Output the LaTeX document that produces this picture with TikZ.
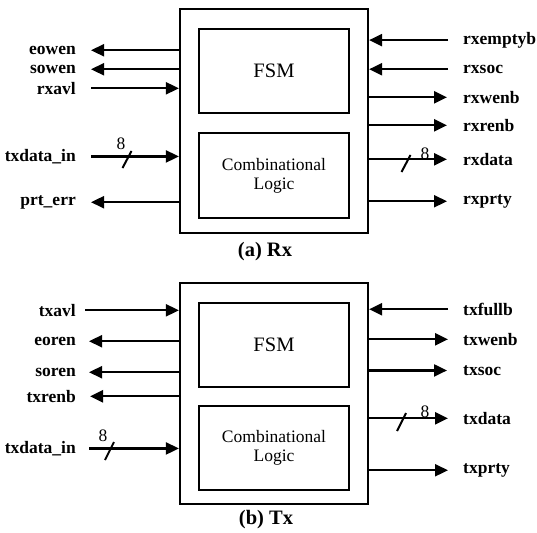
\documentclass[tikz,border=0pt]{standalone}
\usepackage{fontspec}
\setmainfont{Liberation Serif}
\usetikzlibrary{arrows.meta}

\tikzset{
  unit/.style={draw, line width=2.2pt, minimum width=188pt, inner sep=0pt},
  block/.style={draw, line width=2pt, minimum width=150pt, inner sep=0pt, align=center},
  inlbl/.style={inner sep=0pt, font=\bfseries\fontsize{17.5}{17.5}\selectfont, anchor=mid east},
  outlbl/.style={inner sep=0pt, font=\bfseries\fontsize{17.5}{17.5}\selectfont, anchor=mid west},
  sig/.style={line width=2.2pt, -{Triangle[length=13pt,width=12pt]}},
  busmark/.style={line width=2pt},
  buswidth/.style={inner sep=0pt, font=\fontsize{17.5}{17.5}\selectfont},
  caption/.style={inner sep=0pt, font=\bfseries\fontsize{20.5}{20.5}\selectfont}
}

\begin{document}
\begin{tikzpicture}[x=1pt,y=-1pt]
\useasboundingbox (0,0) rectangle (537,532);

% ---------------- Rx ----------------
\node[unit, minimum height=224pt] (rx) at (274,121) {};
\node[block, minimum height=84pt, font=\fontsize{20.5}{20.5}\selectfont] (rxfsm) at (274,71) {FSM};
\node[block, minimum height=85pt, font=\fontsize{17.5}{19}\selectfont] (rxcl) at (274,175.5) {Combinational\\Logic};
\node[caption] (rxcap) at (265,252) {(a) Rx};

% left side signals
\node[inlbl] (eowen) at (76,52) {eowen};
\node[inlbl] (sowen) at (76,71) {sowen};
\node[inlbl] (rxavl) at (76,92) {rxavl};
\node[inlbl] (rxtxin) at (76,159) {txdata\_in};
\node[inlbl] (prterr) at (76,203) {prt\_err};

\draw[sig] (rx.west |- eowen) -- ([xshift=15pt]eowen.east);
\draw[sig] (rx.west |- sowen) -- ([xshift=15pt]sowen.east);
\draw[sig] ([xshift=15pt]rxavl.east) -- (rx.west |- rxavl);
\draw[sig] ([xshift=15pt]rxtxin.east) -- (rx.west |- rxtxin);
\draw[sig] (rx.west |- prterr) -- ([xshift=15pt]prterr.east);

% right side signals
\node[outlbl] (rxemptyb) at (463,42) {rxemptyb};
\node[outlbl] (rxsoc) at (463,71) {rxsoc};
\node[outlbl] (rxwenb) at (463,101) {rxwenb};
\node[outlbl] (rxrenb) at (463,129) {rxrenb};
\node[outlbl] (rxdata) at (463,163) {rxdata};
\node[outlbl] (rxprty) at (463,202) {rxprty};

\draw[sig] ([xshift=-15pt]rxemptyb.west) -- (rx.east |- rxemptyb);
\draw[sig] ([xshift=-15pt]rxsoc.west) -- (rx.east |- rxsoc);
\draw[sig] (rx.east |- rxwenb) -- ([xshift=-16pt]rxwenb.west);
\draw[sig] (rx.east |- rxrenb) -- ([xshift=-16pt]rxrenb.west);
\draw[sig] (rx.east |- rxdata) -- ([xshift=-16pt]rxdata.west);
\draw[sig] (rx.east |- rxprty) -- ([xshift=-16pt]rxprty.west);

% bus width marks
\draw[busmark] (122.5,168) -- (131.5,151);
\node[buswidth] (rxw1) at (121,144) {8};
\draw[busmark] (401.5,172) -- (410.5,155);
\node[buswidth] (rxw2) at (425,154) {8};

% ---------------- Tx ----------------
\node[unit, minimum height=221pt] (tx) at (274,393.5) {};
\node[block, minimum height=84pt, font=\fontsize{20.5}{20.5}\selectfont] (txfsm) at (274,345) {FSM};
\node[block, minimum height=84pt, font=\fontsize{17.5}{19}\selectfont] (txcl) at (274,448) {Combinational\\Logic};
\node[caption] (txcap) at (266,520) {(b) Tx};

% left side signals
\node[inlbl] (txavl) at (76,314) {txavl};
\node[inlbl] (eoren) at (76,343) {eoren};
\node[inlbl] (soren) at (76,374) {soren};
\node[inlbl] (txrenb) at (76,400) {txrenb};
\node[inlbl] (txtxin) at (76,451) {txdata\_in};

\draw[sig] ([xshift=9pt]txavl.east) -- (tx.west |- txavl);
\draw[sig] (tx.west |- eoren) -- ([xshift=13pt]eoren.east);
\draw[sig] (tx.west |- soren) -- ([xshift=13pt]soren.east);
\draw[sig] (tx.west |- txrenb) -- ([xshift=14pt]txrenb.east);
\draw[sig] ([xshift=13pt]txtxin.east) -- (tx.west |- txtxin);

% right side signals
\node[outlbl] (txfullb) at (463,313) {txfullb};
\node[outlbl] (txwenb) at (463,343) {txwenb};
\node[outlbl] (txsoc) at (463,373) {txsoc};
\node[outlbl] (txdata) at (463,422) {txdata};
\node[outlbl] (txprty) at (463,471) {txprty};

\draw[sig] ([xshift=-15pt]txfullb.west) -- (tx.east |- txfullb);
\draw[sig] (tx.east |- txwenb) -- ([xshift=-15pt]txwenb.west);
\draw[sig] (tx.east |- txsoc) -- ([xshift=-16pt]txsoc.west);
\draw[sig] (tx.east |- txdata) -- ([xshift=-15pt]txdata.west);
\draw[sig] (tx.east |- txprty) -- ([xshift=-15pt]txprty.west);

% bus width marks
\draw[busmark] (105,460) -- (114,442);
\node[buswidth] (txw1) at (103,436) {8};
\draw[busmark] (397,431) -- (406,413);
\node[buswidth] (txw2) at (425,412) {8};

\end{tikzpicture}
\end{document}
